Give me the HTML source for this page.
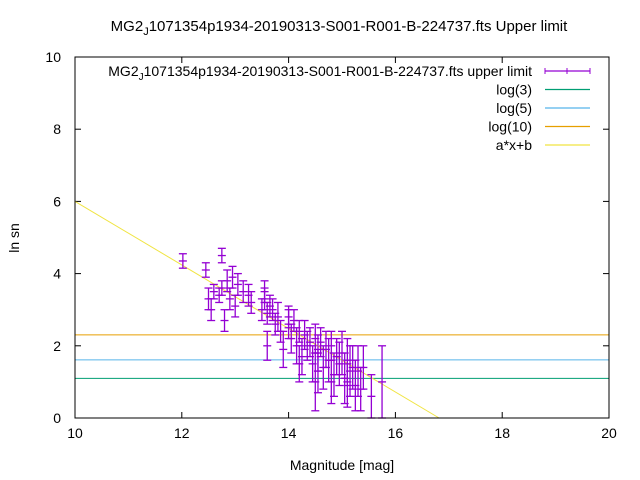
<!DOCTYPE html>
<html><head><meta charset="utf-8"><style>body{margin:0;background:#fff}svg{display:block;font-family:"Liberation Sans",sans-serif}</style></head>
<body>
<svg id="c" width="640" height="480" xmlns="http://www.w3.org/2000/svg">
<rect width="640" height="480" fill="#fff"/>
<text x="339" y="31" font-size="15" text-anchor="middle">MG2<tspan font-size="11" dy="4">J</tspan><tspan dy="-4">1071354p1934-20190313-S001-R001-B-224737.fts Upper limit</tspan></text>
<g id="plot"></g>
<text x="342" y="470" font-size="14" text-anchor="middle">Magnitude [mag]</text>
<text transform="translate(19,238) rotate(-90)" font-size="14" text-anchor="middle">ln sn</text>
</svg>
<script>
const xTicks=[10,12,14,16,18,20];
const yTicks=[0,2,4,6,8,10];
const mags=[12.02,12.45,12.75,12.8,13.55,14.0,14.2,14.55,14.8,15.1,12.5,12.55,12.6,12.7,12.75,12.85,12.9,12.95,13.0,13.05,13.15,13.25,13.3,13.5,13.55,13.6,13.6,13.65,13.7,13.75,13.8,13.85,13.9,14.0,14.05,14.1,14.15,14.2,14.25,14.3,14.35,14.4,14.45,14.5,14.5,14.55,14.6,14.65,14.7,14.75,14.8,14.85,14.9,14.95,15.0,15.05,15.1,15.15,15.2,15.25,15.3,15.35,15.4,15.55,15.75];
const lnsn=[4.35,4.1,4.5,2.7,3.5,2.6,1.5,1.3,1.0,0.9,3.3,3.0,3.5,3.4,3.6,3.8,3.3,3.9,3.1,3.7,3.5,3.4,3.2,3.0,3.3,2.9,2.0,3.1,3.0,2.6,2.8,2.4,1.9,2.8,2.2,2.7,2.0,2.4,1.7,2.3,2.0,2.1,1.5,2.2,1.0,1.8,2.1,1.4,1.9,1.6,2.0,1.2,1.7,1.5,1.8,1.1,1.6,1.3,1.4,0.9,1.3,0.8,1.4,0.6,1.0];
const errs=[0.2,0.2,0.2,0.3,0.3,0.4,0.5,0.6,0.6,0.6,0.3,0.3,0.2,0.2,0.2,0.3,0.3,0.3,0.3,0.3,0.3,0.3,0.3,0.3,0.3,0.3,0.4,0.3,0.3,0.3,0.4,0.3,0.5,0.3,0.4,0.3,0.5,0.3,0.5,0.4,0.4,0.4,0.5,0.4,0.8,0.5,0.4,0.6,0.5,0.6,0.4,0.6,0.5,0.6,0.6,0.7,0.6,0.7,0.6,0.7,0.7,0.6,0.6,0.6,1.0];
const hlines=[Math.log(3),Math.log(5),Math.log(10)];
const hlineColors=["#009e73","#56b4e9","#e69f00"];
const fitA=-0.88, fitB=14.8;
const L=75,R=609,T=57,B=418;
const sx=v=>L+(v-10)/10*(R-L), sy=v=>B-v/10*(B-T);
const g=document.getElementById('plot'),NS="http://www.w3.org/2000/svg";
function el(t,a){const e=document.createElementNS(NS,t);for(const k in a)e.setAttribute(k,a[k]);g.appendChild(e);return e;}
function line(x1,y1,x2,y2,c,w){return el('line',{x1,y1,x2,y2,stroke:c,'stroke-width':w||1});}
xTicks.forEach(t=>{const x=sx(t);line(x,B,x,B-6,'#000');line(x,T,x,T+6,'#000');
 const s=el('text',{x,y:B+20,'font-size':14,'text-anchor':'middle'});s.textContent=t;
 
 });
yTicks.forEach(t=>{const y=sy(t);line(L,y,L+6,y,'#000');line(R,y,R-6,y,'#000');
 const s=el('text',{x:L-14,y:y+5,'font-size':14,'text-anchor':'end'});s.textContent=t;
 
 });
hlines.forEach((v,i)=>{const l=line(L,sy(v),R,sy(v),hlineColors[i]);
 
 });
const fx2=-fitB/fitA;
const fl=line(sx(10),sy(fitA*10+fitB),sx(Math.min(20,fx2)),sy(fitA*Math.min(20,fx2)+fitB),'#f0e442');


mags.forEach((m,i)=>{const x=sx(m),y1=sy(Math.max(0,lnsn[i]-errs[i])),y2=sy(lnsn[i]+errs[i]);
 const e=el('g',{stroke:'#9400d3','stroke-width':1.3});
 
 
 const a=(x1,yy1,x2,yy2)=>{const l=document.createElementNS(NS,'line');l.setAttribute('x1',x1);l.setAttribute('y1',yy1);l.setAttribute('x2',x2);l.setAttribute('y2',yy2);e.appendChild(l);};
 a(x,y1,x,y2);a(x-4,y1,x+4,y1);a(x-4,y2,x+4,y2);a(x-4,sy(lnsn[i]),x+4,sy(lnsn[i]));});
const fr=el('rect',{x:L,y:T,width:R-L,height:B-T,fill:'none',stroke:'#000'});


const leg=[["MG2J","#9400d3"],["log(3)","#009e73"],["log(5)","#56b4e9"],["log(10)","#e69f00"],["a*x+b","#f0e442"]];
leg.forEach((r,i)=>{const y=71+i*18.5;
 const t=el('text',{x:532,y:y+5,'font-size':14,'text-anchor':'end'});
 if(i==0){t.innerHTML='MG2<tspan font-size="10" dy="4">J</tspan><tspan dy="-4">1071354p1934-20190313-S001-R001-B-224737.fts upper limit</tspan>';}else t.textContent=r[0];
 
 
 line(545,y,590,y,r[1],1.3);
 if(i==0){line(545,y-3,545,y+3,r[1]);line(590,y-3,590,y+3,r[1]);line(567,y-3,567,y+3,r[1]);}});
</script>
</body></html>
